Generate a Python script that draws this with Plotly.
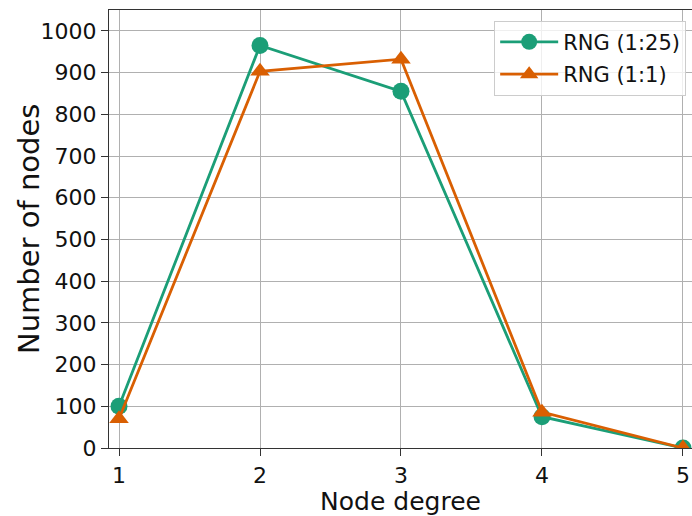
import plotly.graph_objects as go

degrees = [1, 2, 3, 4, 5]
rng_1_25 = [100, 965, 855, 75, 0]
rng_1_1 = [70, 903, 932, 86, 0]
x_ticks = [1, 2, 3, 4, 5]
y_ticks = [0, 100, 200, 300, 400, 500, 600, 700, 800, 900, 1000]

GREEN = "#1b9e77"
ORANGE = "#d95f02"
FONT = "DejaVu Sans"

fig = go.Figure()
fig.add_trace(go.Scatter(
    x=degrees, y=rng_1_25, mode="lines+markers", name="RNG (1:25)",
    line=dict(color=GREEN, width=2.8),
    marker=dict(symbol="circle", size=17, color=GREEN),
    legendgroup="a",
))
fig.add_trace(go.Scatter(
    x=degrees, y=rng_1_1, mode="lines+markers", name="RNG (1:1)",
    line=dict(color=ORANGE, width=2.8),
    marker=dict(symbol="triangle-up", size=17, color=ORANGE),
    legendgroup="b",
))

axis_common = dict(
    showgrid=True, gridcolor="#b0b0b0", gridwidth=1.1,
    showline=True, linecolor="#333333", linewidth=1.3,
    ticks="outside", ticklen=7, tickwidth=1.1, tickcolor="#333333",
    tickfont=dict(family=FONT, size=22, color="#111111"),
    zeroline=False,
)

fig.update_layout(
    width=692, height=516,
    margin=dict(l=109, r=0, t=10, b=68),
    paper_bgcolor="white", plot_bgcolor="white",
    font=dict(family=FONT, color="#111111"),
    xaxis=dict(
        range=[0.929, 5.064], tickvals=x_ticks, mirror=True,
        title=dict(text="Node degree", font=dict(family=FONT, size=25), standoff=4),
        **axis_common,
    ),
    yaxis=dict(
        range=[0, 1050], tickvals=y_ticks, mirror=False,
        **axis_common,
    ),
    legend=dict(
        x=0.99, y=0.9756, xanchor="right", yanchor="top",
        bgcolor="rgba(255,255,255,0.8)", bordercolor="#cccccc", borderwidth=1,
        font=dict(family=FONT, size=21, color="#111111"),
        tracegroupgap=2, traceorder="grouped", itemwidth=58,
    ),
    showlegend=True,
    annotations=[dict(
        text="Number of nodes", textangle=-90,
        xref="paper", yref="paper", x=0, y=0.5,
        xanchor="center", yanchor="middle", xshift=-80,
        showarrow=False, font=dict(family=FONT, size=29, color="#111111"),
    )],
)

fig.write_html("out.html")
